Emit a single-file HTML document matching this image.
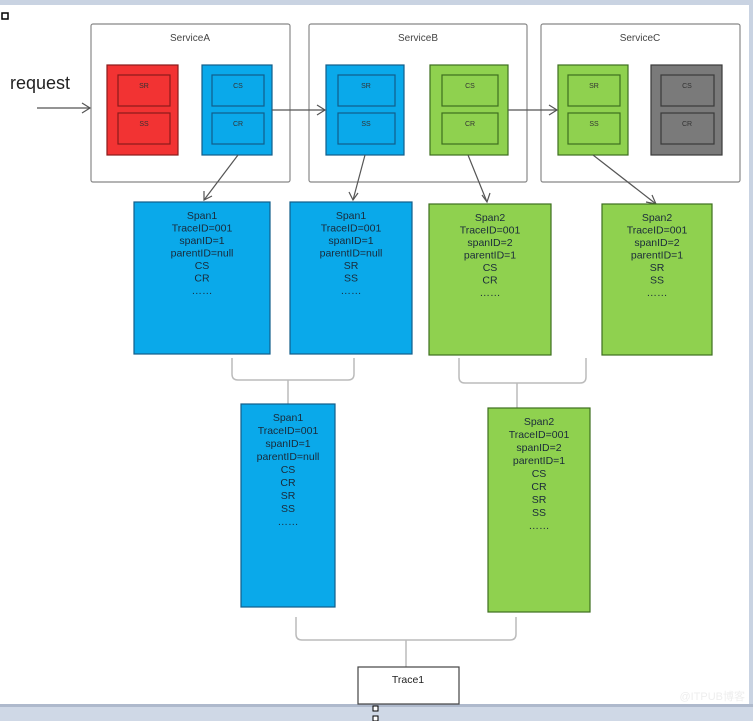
<!DOCTYPE html>
<html><head><meta charset="utf-8"><style>
html,body{margin:0;padding:0;background:#fff;}
svg text{font-family:"Liberation Sans",sans-serif;}
</style></head><body>
<svg width="753" height="721" viewBox="0 0 753 721" xmlns="http://www.w3.org/2000/svg">
<rect x="0" y="0" width="753" height="721" fill="#fff"/>
<rect x="0" y="0" width="753" height="5" fill="#c9d3e2"/>
<rect x="749" y="0" width="4" height="721" fill="#c9d3e2"/>
<rect x="0" y="706" width="753" height="15" fill="#cfd8e6"/>
<rect x="0" y="704" width="753" height="3" fill="#aeb9cc"/>
<rect x="2" y="13" width="6" height="6" fill="none" stroke="#000" stroke-width="1.5"/>
<rect x="373" y="706" width="5" height="5" fill="#fff" stroke="#000"/>
<rect x="373" y="716" width="5" height="5" fill="#fff" stroke="#000"/>
<text x="745" y="700" font-size="11" fill="#eee" text-anchor="end">@ITPUB博客</text>

<g fill="#fff" stroke="#888" stroke-width="1.2">
<rect x="91" y="24" width="199" height="158" rx="2"/>
<rect x="309" y="24" width="218" height="158" rx="2"/>
<rect x="541" y="24" width="199" height="158" rx="2"/>
</g>
<g font-size="10" fill="#444" text-anchor="middle">
<text x="190" y="41">ServiceA</text>
<text x="418" y="41">ServiceB</text>
<text x="640" y="41">ServiceC</text>
</g>
<text x="10" y="89" font-size="18" fill="#222">request</text>

<!-- component boxes -->
<g stroke-width="1.2">
<rect x="107" y="65" width="71" height="90" fill="#f23333" stroke="#8a1a1a"/>
<rect x="118" y="75" width="52" height="31" fill="#f23333" stroke="#8a1a1a"/>
<rect x="118" y="113" width="52" height="31" fill="#f23333" stroke="#8a1a1a"/>
<rect x="202" y="65" width="70" height="90" fill="#0aa9ea" stroke="#125d8a"/>
<rect x="212" y="75" width="52" height="31" fill="#0aa9ea" stroke="#125d8a"/>
<rect x="212" y="113" width="52" height="31" fill="#0aa9ea" stroke="#125d8a"/>
<rect x="326" y="65" width="78" height="90" fill="#0aa9ea" stroke="#125d8a"/>
<rect x="338" y="75" width="57" height="31" fill="#0aa9ea" stroke="#125d8a"/>
<rect x="338" y="113" width="57" height="31" fill="#0aa9ea" stroke="#125d8a"/>
<rect x="430" y="65" width="78" height="90" fill="#8fd14f" stroke="#3d6e1e"/>
<rect x="442" y="75" width="56" height="31" fill="#8fd14f" stroke="#3d6e1e"/>
<rect x="442" y="113" width="56" height="31" fill="#8fd14f" stroke="#3d6e1e"/>
<rect x="558" y="65" width="70" height="90" fill="#8fd14f" stroke="#3d6e1e"/>
<rect x="568" y="75" width="52" height="31" fill="#8fd14f" stroke="#3d6e1e"/>
<rect x="568" y="113" width="52" height="31" fill="#8fd14f" stroke="#3d6e1e"/>
<rect x="651" y="65" width="71" height="90" fill="#7a7a7a" stroke="#3a3a3a"/>
<rect x="661" y="75" width="53" height="31" fill="#7a7a7a" stroke="#3a3a3a"/>
<rect x="661" y="113" width="53" height="31" fill="#7a7a7a" stroke="#3a3a3a"/>
</g>
<g font-size="7" fill="#333" text-anchor="middle">
<text x="144" y="88">SR</text><text x="144" y="126">SS</text>
<text x="238" y="88">CS</text><text x="238" y="126">CR</text>
<text x="366" y="88">SR</text><text x="366" y="126">SS</text>
<text x="470" y="88">CS</text><text x="470" y="126">CR</text>
<text x="594" y="88">SR</text><text x="594" y="126">SS</text>
<text x="687" y="88">CS</text><text x="687" y="126">CR</text>
</g>

<!-- arrows -->
<g stroke="#555" stroke-width="1.2" fill="none">
<line x1="37" y1="108" x2="90" y2="108"/><polyline points="82,103 90,108 82,113"/>
<line x1="272" y1="110" x2="325" y2="110"/><polyline points="317,105 325,110 317,115"/>
<line x1="508" y1="110" x2="557" y2="110"/><polyline points="549,105 557,110 549,115"/>
<line x1="238" y1="155" x2="204" y2="200"/><polyline points="204,191 204,200 212,196"/>
<line x1="365" y1="155" x2="353" y2="200"/><polyline points="349,192 353,200 358,193"/>
<line x1="468" y1="155" x2="487" y2="202"/><polyline points="482,195 487,202 490,193"/>
<line x1="593" y1="155" x2="656" y2="204"/><polyline points="646,202 656,204 652,195"/>
</g>

<!-- brackets -->
<g stroke="#bbb" stroke-width="1.5" fill="none">
<path d="M232,358 L232,374 Q232,380 238,380 L348,380 Q354,380 354,374 L354,358"/>
<path d="M288,380 L288,404"/>
<path d="M459,358 L459,377 Q459,383 465,383 L580,383 Q586,383 586,377 L586,358"/>
<path d="M517,383 L517,408"/>
<path d="M296,617 L296,634 Q296,640 302,640 L510,640 Q516,640 516,634 L516,617"/>
<path d="M406,640 L406,667"/>
</g>

<!-- span boxes -->
<g stroke-width="1.2">
<rect x="134" y="202" width="136" height="152" fill="#0aa9ea" stroke="#125d8a"/>
<rect x="290" y="202" width="122" height="152" fill="#0aa9ea" stroke="#125d8a"/>
<rect x="429" y="204" width="122" height="151" fill="#8fd14f" stroke="#3d6e1e"/>
<rect x="602" y="204" width="110" height="151" fill="#8fd14f" stroke="#3d6e1e"/>
<rect x="241" y="404" width="94" height="203" fill="#0aa9ea" stroke="#125d8a"/>
<rect x="488" y="408" width="102" height="204" fill="#8fd14f" stroke="#3d6e1e"/>
<rect x="358" y="667" width="101" height="37" fill="#fff" stroke="#444"/>
</g>
<g font-size="10.5" fill="#1a2a3a" text-anchor="middle">
<text x="202" y="219"><tspan x="202">Span1</tspan><tspan x="202" dy="12.5">TraceID=001</tspan><tspan x="202" dy="12.5">spanID=1</tspan><tspan x="202" dy="12.5">parentID=null</tspan><tspan x="202" dy="12.5">CS</tspan><tspan x="202" dy="12.5">CR</tspan><tspan x="202" dy="12.5">……</tspan></text>
<text x="351" y="219"><tspan x="351">Span1</tspan><tspan x="351" dy="12.5">TraceID=001</tspan><tspan x="351" dy="12.5">spanID=1</tspan><tspan x="351" dy="12.5">parentID=null</tspan><tspan x="351" dy="12.5">SR</tspan><tspan x="351" dy="12.5">SS</tspan><tspan x="351" dy="12.5">……</tspan></text>
<text x="490" y="221"><tspan x="490">Span2</tspan><tspan x="490" dy="12.5">TraceID=001</tspan><tspan x="490" dy="12.5">spanID=2</tspan><tspan x="490" dy="12.5">parentID=1</tspan><tspan x="490" dy="12.5">CS</tspan><tspan x="490" dy="12.5">CR</tspan><tspan x="490" dy="12.5">……</tspan></text>
<text x="657" y="221"><tspan x="657">Span2</tspan><tspan x="657" dy="12.5">TraceID=001</tspan><tspan x="657" dy="12.5">spanID=2</tspan><tspan x="657" dy="12.5">parentID=1</tspan><tspan x="657" dy="12.5">SR</tspan><tspan x="657" dy="12.5">SS</tspan><tspan x="657" dy="12.5">……</tspan></text>
<text x="288" y="421"><tspan x="288">Span1</tspan><tspan x="288" dy="13">TraceID=001</tspan><tspan x="288" dy="13">spanID=1</tspan><tspan x="288" dy="13">parentID=null</tspan><tspan x="288" dy="13">CS</tspan><tspan x="288" dy="13">CR</tspan><tspan x="288" dy="13">SR</tspan><tspan x="288" dy="13">SS</tspan><tspan x="288" dy="13">……</tspan></text>
<text x="539" y="425"><tspan x="539">Span2</tspan><tspan x="539" dy="13">TraceID=001</tspan><tspan x="539" dy="13">spanID=2</tspan><tspan x="539" dy="13">parentID=1</tspan><tspan x="539" dy="13">CS</tspan><tspan x="539" dy="13">CR</tspan><tspan x="539" dy="13">SR</tspan><tspan x="539" dy="13">SS</tspan><tspan x="539" dy="13">……</tspan></text>
<text x="408" y="683" fill="#222">Trace1</text>
</g>
</svg>
</body></html>
